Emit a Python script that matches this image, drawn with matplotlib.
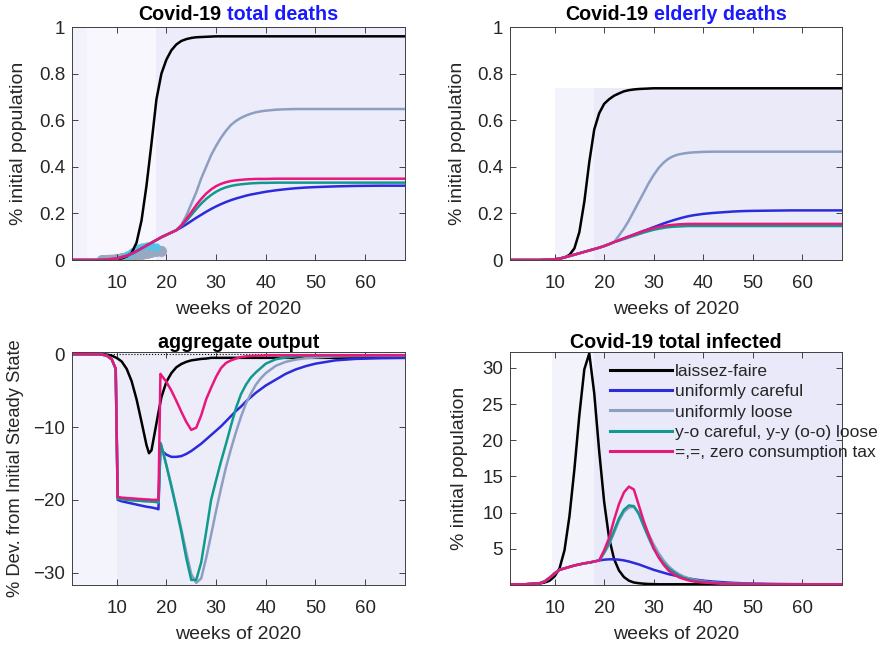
import matplotlib
matplotlib.use("Agg")
import matplotlib.pyplot as plt

plt.rcParams["font.family"] = ["Liberation Sans", "DejaVu Sans"]

# shared weekly grid for the death / infected panels
weeks = [1, 4, 7, 8, 9, 10, 11, 12, 13, 14, 15, 16, 17, 18, 19, 20, 21, 22, 23, 24,
         25, 26, 27, 28, 29, 30, 31, 32, 33, 34, 35, 36, 37, 38, 39, 40,
         42, 44, 46, 48, 50, 54, 58, 63, 68]

labels = ["laissez-faire", "uniformly careful", "uniformly loose",
          "y-o careful, y-y (o-o) loose", "=,=, zero consumption tax"]
colors = ["#000000", "#2b2bdc", "#8d9ec2", "#109a8e", "#e8177c"]

# --- total deaths (% initial population)
tot_early = [0, 0, 0, 0.002, 0.004, 0.006, 0.012, 0.018, 0.027, 0.038, 0.05, 0.062,
             0.074, 0.086, 0.098, 0.108, 0.118, 0.128]
tot_black = [0, 0, 0, 0.001, 0.002, 0.004, 0.007, 0.015, 0.03, 0.075, 0.17, 0.32,
             0.50, 0.69, 0.80, 0.86, 0.90, 0.925, 0.94, 0.948, 0.953, 0.956, 0.957,
             0.958, 0.959] + [0.96] * 20
tot_blue = tot_early + [0.14, 0.153, 0.167, 0.181, 0.194, 0.207, 0.219, 0.230, 0.240,
                        0.249, 0.257, 0.264, 0.270, 0.276, 0.281, 0.285, 0.289, 0.293,
                        0.299, 0.304, 0.308, 0.311, 0.313, 0.316, 0.318, 0.319, 0.319]
tot_gray = tot_early + [0.15, 0.19, 0.24, 0.29, 0.35, 0.40, 0.45, 0.49, 0.525, 0.555,
                        0.58, 0.597, 0.61, 0.62, 0.628, 0.634, 0.638, 0.641, 0.645,
                        0.647, 0.648, 0.648, 0.648, 0.648, 0.648, 0.648, 0.648]
tot_teal = tot_early + [0.146, 0.168, 0.193, 0.218, 0.242, 0.262, 0.279, 0.293, 0.304,
                        0.312, 0.318, 0.322, 0.325, 0.327, 0.329, 0.330, 0.331, 0.331,
                        0.332, 0.332, 0.332, 0.332, 0.332, 0.332, 0.332, 0.332, 0.332]
tot_pink = tot_early + [0.148, 0.175, 0.205, 0.235, 0.262, 0.285, 0.303, 0.317, 0.327,
                        0.334, 0.339, 0.342, 0.344, 0.346, 0.347, 0.348, 0.348, 0.348,
                        0.349, 0.349, 0.349, 0.349, 0.349, 0.349, 0.349, 0.349, 0.349]
# observed deaths (data blobs)
obs_weeks = [7, 8, 9, 10, 11, 12, 13, 14, 15, 16, 17, 18, 19]
obs_deaths = [0.0, 0.001, 0.002, 0.004, 0.007, 0.011, 0.016, 0.021, 0.026, 0.031,
              0.035, 0.038, 0.04]
obs2_weeks = [12, 13, 14, 15, 16, 17, 18]
obs2_deaths = [0.02, 0.035, 0.05, 0.057, 0.062, 0.062, 0.056]

# --- elderly deaths
eld_early = [0, 0, 0, 0.001, 0.002, 0.003, 0.006, 0.011, 0.017, 0.023, 0.029, 0.035,
             0.041, 0.047, 0.053, 0.060, 0.068, 0.077]
eld_black = [0, 0, 0, 0.001, 0.002, 0.003, 0.006, 0.011, 0.022, 0.05, 0.12, 0.25,
             0.42, 0.56, 0.63, 0.67, 0.69, 0.705, 0.715, 0.724, 0.729, 0.732, 0.734,
             0.735, 0.736, 0.737] + [0.737] * 19
eld_blue = eld_early + [0.085, 0.093, 0.101, 0.109, 0.117, 0.125, 0.133, 0.141, 0.149,
                        0.157, 0.164, 0.171, 0.177, 0.183, 0.188, 0.192, 0.195, 0.198,
                        0.202, 0.205, 0.208, 0.210, 0.211, 0.212, 0.213, 0.213, 0.213]
eld_gray = eld_early + [0.105, 0.135, 0.17, 0.21, 0.25, 0.29, 0.33, 0.365, 0.395, 0.418,
                        0.435, 0.446, 0.453, 0.457, 0.46, 0.462, 0.463, 0.464, 0.465,
                        0.465, 0.465, 0.465, 0.465, 0.465, 0.465, 0.465, 0.465]
eld_teal = eld_early + [0.083, 0.09, 0.097, 0.104, 0.111, 0.118, 0.124, 0.13, 0.134,
                        0.138, 0.141, 0.143, 0.144, 0.145, 0.146, 0.146, 0.146, 0.146,
                        0.146, 0.146, 0.146, 0.146, 0.146, 0.146, 0.146, 0.146, 0.146]
eld_pink = eld_early + [0.085, 0.093, 0.101, 0.109, 0.117, 0.125, 0.131, 0.137, 0.142,
                        0.146, 0.149, 0.151, 0.153, 0.154, 0.155, 0.155, 0.155, 0.155,
                        0.155, 0.155, 0.155, 0.155, 0.155, 0.155, 0.155, 0.155, 0.155]

# --- total infected
inf_early = [0.1, 0.1, 0.25, 0.5, 1.0, 1.6, 2.1, 2.3, 2.5, 2.7, 2.85, 3.0, 3.1, 3.25, 3.4]
inf_black = [0.1, 0.1, 0.2, 0.35, 0.6, 1.2, 2.3, 4.8, 9.5, 16.0, 23.5, 29.8, 32.0, 26.5,
             18.5, 11.5, 6.5, 3.6, 2.0, 1.1, 0.6, 0.35, 0.25, 0.18, 0.14, 0.12] + [0.1] * 19
inf_blue = inf_early + [3.5, 3.55, 3.55, 3.5, 3.4, 3.25, 3.05, 2.85, 2.6, 2.35, 2.1, 1.9,
                        1.7, 1.5, 1.35, 1.2, 1.05, 0.92, 0.8, 0.7, 0.6, 0.48, 0.38, 0.3,
                        0.24, 0.2, 0.15, 0.12, 0.1, 0.1]
inf_gray = inf_early + [4.4, 5.6, 7.2, 8.9, 10.1, 10.7, 10.8, 10.0, 8.5, 7.0, 5.6, 4.4,
                        3.4, 2.6, 2.0, 1.55, 1.2, 0.95, 0.75, 0.6, 0.48, 0.34, 0.25, 0.19,
                        0.15, 0.13, 0.1, 0.1, 0.1, 0.1]
inf_teal = inf_early + [4.5, 5.8, 7.5, 9.2, 10.4, 11.0, 10.9, 9.8, 8.1, 6.5, 5.0, 3.9,
                        3.0, 2.3, 1.8, 1.35, 1.0, 0.8, 0.62, 0.5, 0.42, 0.3, 0.22, 0.17,
                        0.14, 0.12, 0.1, 0.1, 0.1, 0.1]
inf_pink = inf_early + [4.8, 6.5, 9.0, 11.2, 12.8, 13.6, 13.2, 11.0, 8.8, 6.9, 5.1, 3.8,
                        2.8, 2.0, 1.5, 1.1, 0.85, 0.65, 0.5, 0.42, 0.35, 0.26, 0.2, 0.16,
                        0.13, 0.12, 0.1, 0.1, 0.1, 0.1]

# --- aggregate output (% dev. from initial steady state), finer grid around the jumps
out_weeks = [1, 4, 7, 8, 9, 9.8, 10.2, 11, 12, 13, 14, 15, 16, 16.5, 17, 18, 18.4, 18.8,
             19, 20, 21, 22, 23, 24, 25, 26, 27, 28, 29, 30, 31, 32, 33, 34, 35, 36, 37,
             38, 39, 40, 42, 44, 46, 48, 50, 54, 58, 63, 68]
out_black = [0, 0, 0, -0.05, -0.2, -0.45, -0.6, -1.0, -2.0, -3.7, -6.2, -9.3, -12.5,
             -13.6, -13.2, -9.5, -8.0, -6.6, -5.9, -3.8, -2.6, -1.8, -1.35, -1.05, -0.85,
             -0.75, -0.65, -0.6] + [-0.5] * 21
out_blue = [0, 0, -0.05, -0.2, -0.7, -2.0, -20.0, -20.2, -20.35, -20.5, -20.65, -20.8,
            -20.95, -21.0, -21.05, -21.2, -21.3, -13.0, -13.2, -13.8, -14.1, -14.1, -14.0,
            -13.7, -13.3, -12.8, -12.3, -11.7, -11.1, -10.5, -9.9, -9.2, -8.5, -7.8, -7.2,
            -6.5, -5.9, -5.3, -4.8, -4.3, -3.5, -2.7, -2.1, -1.65, -1.3, -0.85, -0.65,
            -0.55, -0.5]
out_gray = [0, 0, -0.05, -0.2, -0.7, -2.0, -19.8, -19.9, -20.0, -20.05, -20.1, -20.15,
            -20.2, -20.2, -20.25, -20.3, -20.35, -12.2, -12.6, -15.2, -18.0, -21.0, -24.0,
            -27.2, -30.2, -31.4, -30.8, -28.0, -24.8, -21.5, -18.4, -15.5, -13.0, -10.7,
            -8.6, -6.8, -5.4, -4.2, -3.3, -2.6, -1.6, -1.05, -0.75, -0.55, -0.45, -0.3,
            -0.25, -0.2, -0.2]
out_teal = [0, 0, -0.05, -0.2, -0.7, -2.0, -19.8, -19.9, -20.0, -20.05, -20.1, -20.15,
            -20.2, -20.2, -20.25, -20.3, -20.35, -12.2, -12.6, -15.3, -18.2, -21.2, -24.4,
            -28.0, -31.0, -31.0, -28.6, -24.4, -20.0, -17.3, -14.7, -12.3, -9.8, -7.4,
            -5.5, -4.2, -3.2, -2.5, -1.9, -1.3, -0.7, -0.45, -0.3, -0.2, -0.15, -0.15,
            -0.15, -0.15, -0.15]
out_pink = [0, 0, -0.05, -0.2, -0.7, -2.0, -19.6, -19.7, -19.75, -19.8, -19.85, -19.9,
            -19.95, -19.95, -20.0, -20.0, -20.0, -2.7, -2.9, -3.8, -5.0, -6.4, -7.9, -9.3,
            -10.4, -10.1, -8.4, -6.2, -4.6, -3.1, -1.9, -1.2, -0.85, -0.6, -0.4, -0.3,
            -0.25, -0.2, -0.2, -0.15, -0.15, -0.15, -0.15, -0.15, -0.15, -0.15, -0.15,
            -0.15, -0.15]

TICK_FS = 13.5
LABEL_FS = 14
TITLE_FS = 14.2
TXT = "#262626"

fig = plt.figure(figsize=(8.84, 6.46), dpi=100)
ax_tl = fig.add_axes([0.0814, 0.5975, 0.3767, 0.3607])
ax_tr = fig.add_axes([0.5769, 0.5975, 0.3756, 0.3607])
ax_bl = fig.add_axes([0.0814, 0.0944, 0.3767, 0.3607])
ax_br = fig.add_axes([0.5769, 0.0944, 0.3756, 0.3607])


def style(ax, ylabel, ylx, yfs=LABEL_FS):
    ax.set_xlim(1, 68)
    ax.set_xticks([10, 20, 30, 40, 50, 60])
    ax.tick_params(direction="in", top=True, right=True, length=4, width=0.6,
                   labelsize=TICK_FS, colors=TXT)
    ax.tick_params(axis="x", pad=11)
    ax.tick_params(axis="y", pad=5)
    for s in ax.spines.values():
        s.set_color("#404040")
        s.set_linewidth(0.7)
    ax.set_xlabel("weeks of 2020", fontsize=LABEL_FS, color=TXT)
    ax.xaxis.set_label_coords(0.5, -0.175)
    ax.set_ylabel(ylabel, fontsize=yfs, color=TXT)
    ax.yaxis.set_label_coords(ylx, 0.5)


def two_tone_title(ax, a, b, cb):
    t1 = ax.text(0.5, 1.015, a, transform=ax.transAxes, ha="left", va="bottom",
                 fontsize=TITLE_FS, fontweight="bold", color="black")
    t2 = ax.annotate(b, xy=(1, 0), xycoords=t1, xytext=(4, 0),
                     textcoords="offset points", ha="left", va="bottom",
                     fontsize=TITLE_FS, fontweight="bold", color=cb)
    fig.canvas.draw()
    r = fig.canvas.get_renderer()
    w = t1.get_window_extent(r).width + t2.get_window_extent(r).width + 4 * 100 / 72
    t1.set_x(0.5 - w / 2 / ax.get_window_extent(r).width)


# top left: total deaths
ax = ax_tl
ax.set_facecolor("#f2f2fb")
ax.axvspan(4, 18, color="#f7f7fd", lw=0, zorder=0)
ax.axvspan(18, 68, color="#ececfa", lw=0, zorder=0)
ax.plot(obs_weeks, obs_deaths, color="#9aa8bf", lw=7, marker="o", ms=7,
        solid_capstyle="round", alpha=0.9, zorder=1)
ax.plot(obs2_weeks, obs2_deaths, color="#55c3ea", lw=4, marker="o", ms=5,
        solid_capstyle="round", alpha=0.9, zorder=1)
for ys, c in zip([tot_black, tot_blue, tot_gray, tot_teal, tot_pink], colors):
    ax.plot(weeks, ys, color=c, lw=1.8, zorder=2)
ax.set_ylim(0, 1)
ax.set_yticks([0, 0.2, 0.4, 0.6, 0.8, 1])
ax.set_yticklabels(["0", "0.2", "0.4", "0.6", "0.8", "1"])
style(ax, "% initial population", -0.135)
two_tone_title(ax, "Covid-19", "total deaths", "#1a1aff")

# top right: elderly deaths
ax = ax_tr
ax.set_facecolor("white")
ax.axvspan(10, 18, ymax=0.74, color="#f3f3fc", lw=0, zorder=0)
ax.axvspan(18, 68, ymax=0.74, color="#eaeaf9", lw=0, zorder=0)
for ys, c in zip([eld_black, eld_blue, eld_gray, eld_teal, eld_pink], colors):
    ax.plot(weeks, ys, color=c, lw=1.8)
ax.set_ylim(0, 1)
ax.set_yticks([0, 0.2, 0.4, 0.6, 0.8, 1])
ax.set_yticklabels(["0", "0.2", "0.4", "0.6", "0.8", "1"])
style(ax, "% initial population", -0.133)
two_tone_title(ax, "Covid-19", "elderly deaths", "#1a1aff")

# bottom left: aggregate output
ax = ax_bl
ax.set_facecolor("#ededfa")
ax.axvspan(1, 10, color="#f4f4fc", lw=0, zorder=0)
ax.axhline(0, color="black", lw=0.8, ls=":", zorder=1)
for ys, c in zip([out_black, out_blue, out_gray, out_teal, out_pink], colors):
    ax.plot(out_weeks, ys, color=c, lw=1.8)
ax.set_ylim(-31.7, 0.3)
ax.set_yticks([-30, -20, -10, 0])
style(ax, "% Dev. from Initial Steady State", -0.144, yfs=13.2)
ax.set_title("aggregate output", fontsize=TITLE_FS, fontweight="bold", pad=3)

# bottom right: total infected
ax = ax_br
ax.set_facecolor("white")
ax.axvspan(9.5, 18, color="#f3f3fc", lw=0, zorder=0)
ax.axvspan(18, 68, color="#e9e9f9", lw=0, zorder=0)
for ys, c, lab in zip([inf_black, inf_blue, inf_gray, inf_teal, inf_pink], colors, labels):
    ax.plot(weeks, ys, color=c, lw=1.8, label=lab)
ax.set_ylim(0, 32.2)
ax.set_yticks([5, 10, 15, 20, 25, 30])
style(ax, "% initial population", -0.127)
ax.set_title("Covid-19 total infected", fontsize=TITLE_FS, fontweight="bold", pad=3)
leg = ax.legend(loc="upper left", bbox_to_anchor=(0.30, 0.95), frameon=False,
                fontsize=12.5, handlelength=3.6, handletextpad=0.15,
                labelspacing=0.3, borderpad=0, borderaxespad=0)
for line in leg.get_lines():
    line.set_linewidth(2.2)
for t in leg.get_texts():
    t.set_color(TXT)

fig.savefig("out.png", dpi=100)
